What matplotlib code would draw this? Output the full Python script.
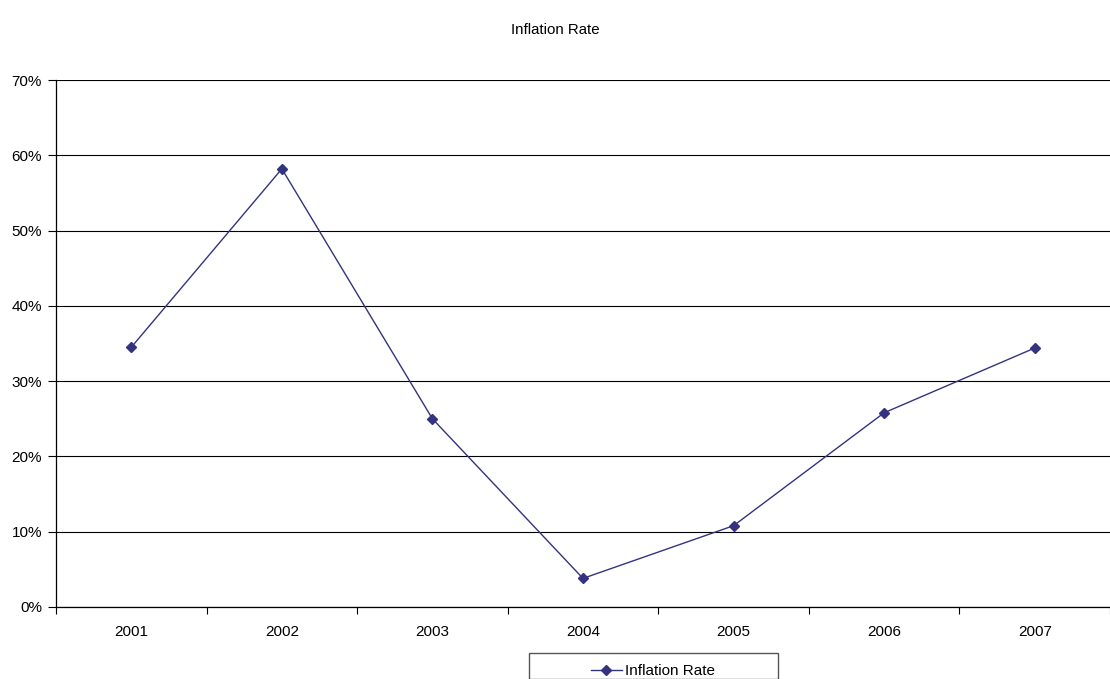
import matplotlib
matplotlib.use("Agg")
import matplotlib.pyplot as plt
from matplotlib.patches import Rectangle
from matplotlib.ticker import PercentFormatter, FixedLocator

plt.rcParams['font.family'] = ['Liberation Sans', 'DejaVu Sans']

### Data
years = ['2001', '2002', '2003', '2004', '2005', '2006', '2007']
inflation = [34.5, 58.2, 25.0, 3.8, 10.8, 25.8, 34.4]
y_ticks = [0, 10, 20, 30, 40, 50, 60, 70]

line_color = '#333380'

fig = plt.figure(figsize=(11.1, 6.79), dpi=100)
ax = fig.add_axes([56 / 1110, 1 - 607 / 679, 1 - 56 / 1110, (607 - 80) / 679])

x = list(range(len(years)))
ax.plot(x, inflation, color=line_color, lw=1.0, marker='D', markersize=5.5,
        label='Inflation Rate', clip_on=False, zorder=3)

ax.set_xlim(-0.5, len(years) - 0.5)
ax.set_ylim(0, 70)
ax.set_yticks(y_ticks)
ax.yaxis.set_major_formatter(PercentFormatter(decimals=0))
ax.grid(axis='y', color='black', lw=0.8)
ax.set_axisbelow(True)

# category labels in the middle, ticks on the boundaries
ax.set_xticks(x)
ax.set_xticklabels(years)
ax.tick_params(axis='x', which='major', length=0, pad=13)
ax.xaxis.set_minor_locator(FixedLocator([i - 0.5 for i in range(len(years) + 1)]))
ax.tick_params(axis='x', which='minor', length=5, width=0.8, direction='out')
ax.tick_params(axis='y', length=6, width=0.8, direction='out', pad=4)
ax.tick_params(labelsize=11)

for s in ['top', 'right']:
    ax.spines[s].set_visible(False)
ax.spines['left'].set_linewidth(0.9)
ax.spines['bottom'].set_linewidth(0.9)

fig.text(0.5, 1 - 30 / 679, 'Inflation Rate', ha='center', va='center', fontsize=10.8)

# legend box at the bottom (cut by the figure edge)
fig.patches.append(Rectangle((529 / 1110, 0), 249 / 1110, 26 / 679,
                             transform=fig.transFigure, fill=False,
                             edgecolor='#555555', lw=1.0))
fig.legend(loc='center left', bbox_to_anchor=(591 / 1110, 1 - 671 / 679),
           frameon=False, fontsize=11, handlelength=2.0, handletextpad=0.25,
           borderpad=0, borderaxespad=0)

fig.savefig('out.png', dpi=100)
